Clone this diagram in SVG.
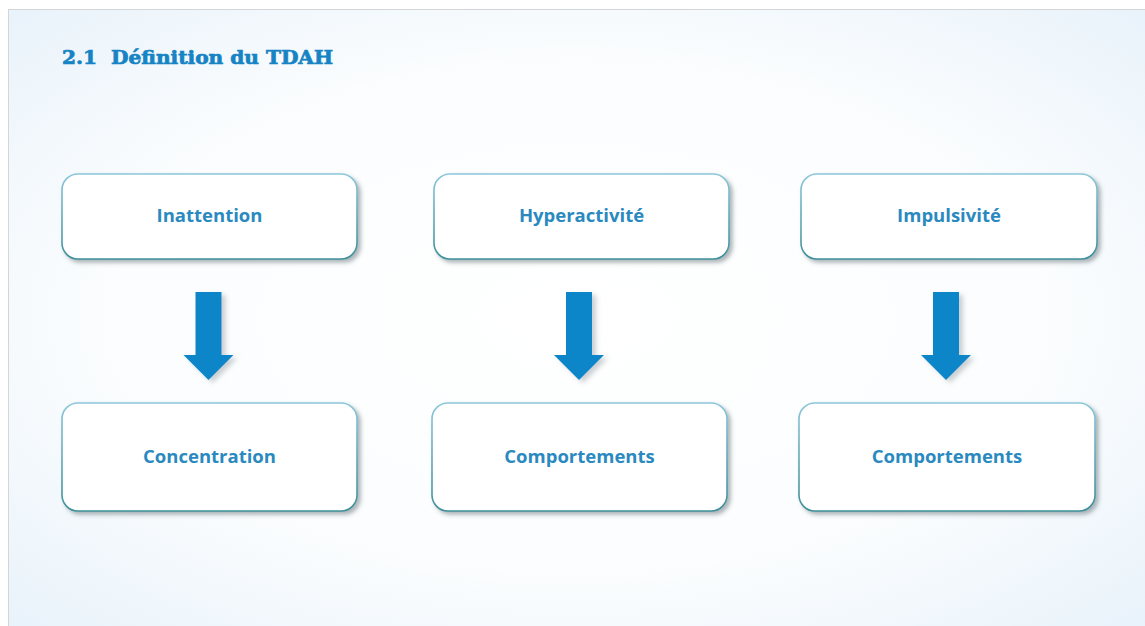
<svg xmlns="http://www.w3.org/2000/svg" width="1145" height="626" viewBox="0 0 1145 626">
<defs>
<radialGradient id="bg" cx="0.5" cy="0.5" r="0.75">
<stop offset="0" stop-color="#ffffff"/>
<stop offset="0.55" stop-color="#fbfdfe"/>
<stop offset="1" stop-color="#e6f1fa"/>
</radialGradient>
<linearGradient id="bstroke" x1="0" y1="0" x2="0" y2="1">
<stop offset="0" stop-color="#8cc6da"/>
<stop offset="1" stop-color="#3d8f99"/>
</linearGradient>
<filter id="sh" x="-10%" y="-20%" width="130%" height="150%">
<feDropShadow dx="3" dy="3" stdDeviation="2" flood-color="#4a5a60" flood-opacity="0.45"/>
</filter>
<filter id="ash" x="-30%" y="-20%" width="170%" height="150%">
<feDropShadow dx="4" dy="3" stdDeviation="2.5" flood-color="#6a7a80" flood-opacity="0.35"/>
</filter>
<path id="arrow" d="M-13,0 H13 V63 H25 L0,88 L-25,63 H-13 Z"/>
</defs>
<style>
.box{fill:#ffffff;stroke:url(#bstroke);stroke-width:1.6;filter:url(#sh)}
.lbl{font-family:"Open Sans","Liberation Sans",sans-serif;font-weight:bold;font-size:18.5px;fill:#2a8ac0;text-anchor:middle}
.arr{fill:#0a86c9;filter:url(#ash)}
.title{font-family:"DejaVu Serif","Liberation Serif",serif;font-weight:bold;font-size:19px;fill:#1684c4;stroke:#1684c4;stroke-width:0.7}
</style>
<rect x="0" y="0" width="1145" height="626" fill="#ffffff"/>
<rect x="8" y="9" width="1137" height="617" fill="url(#bg)"/>
<line x1="8" y1="9.5" x2="1145" y2="9.5" stroke="#d2d6d8" stroke-width="1"/>
<line x1="8.5" y1="9" x2="8.5" y2="626" stroke="#d2d6d8" stroke-width="1"/>
<text class="title" x="62" y="64" textLength="271" lengthAdjust="spacingAndGlyphs" xml:space="preserve">2.1  Définition du TDAH</text>
<g id="n1"><rect class="box" x="62" y="174" width="295" height="85" rx="16"/><text class="lbl" x="209.5" y="222">Inattention</text></g>
<g id="n2"><rect class="box" x="434" y="174" width="295" height="85" rx="16"/><text class="lbl" x="581.5" y="222">Hyperactivité</text></g>
<g id="n3"><rect class="box" x="801" y="174" width="296" height="85" rx="16"/><text class="lbl" x="949" y="222">Impulsivité</text></g>
<g id="n4"><rect class="box" x="62" y="403" width="295" height="108" rx="16"/><text class="lbl" x="209.5" y="463">Concentration</text></g>
<g id="n5"><rect class="box" x="432" y="403" width="295" height="108" rx="16"/><text class="lbl" x="579.5" y="463">Comportements</text></g>
<g id="n6"><rect class="box" x="799" y="403" width="296" height="108" rx="16"/><text class="lbl" x="947" y="463">Comportements</text></g>
<g id="connectors">
<use href="#arrow" class="arr" transform="translate(208.5,292)"/>
<use href="#arrow" class="arr" transform="translate(579,292)"/>
<use href="#arrow" class="arr" transform="translate(946,292)"/>
</g>
</svg>
